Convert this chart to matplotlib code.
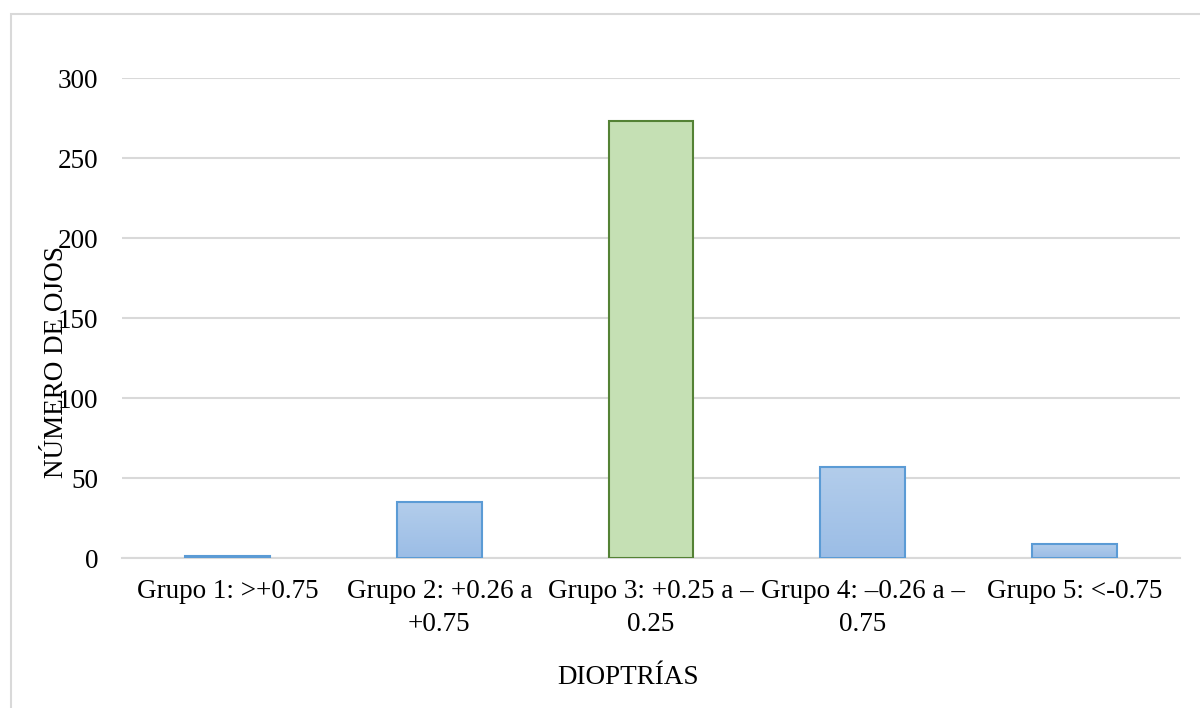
import numpy as np
import matplotlib.pyplot as plt
from matplotlib.patches import Rectangle
from matplotlib.colors import LinearSegmentedColormap

plt.rcParams['font.family'] = ['Liberation Serif', 'DejaVu Serif']

# eyes per dioptre group
grupos = ['Grupo 1: >+0.75', 'Grupo 2: +0.26 a\n+0.75', 'Grupo 3: +0.25 a –\n0.25',
          'Grupo 4: –0.26 a –\n0.75', 'Grupo 5: <-0.75']
n_ojos = [1, 35, 273, 57, 9]
destacado = [False, False, True, False, False]
y_ticks = [0, 50, 100, 150, 200, 250, 300]

grid_col = '#d9d9d9'
blue_edge = '#5b9bd5'
green_face = '#c5e0b4'
green_edge = '#548235'
blue_grad = LinearSegmentedColormap.from_list('blue_grad', ['#9bbde6', '#b3cdeb'])

fig = plt.figure(figsize=(12, 7.08), dpi=100)
ax = fig.add_axes([122 / 1200, 1 - 558 / 708, 1058 / 1200, 480 / 708])

x = np.arange(len(grupos))
width = 0.4
bars = ax.bar(x, n_ojos, width=width, zorder=3)
for bar, hi in zip(bars, destacado):
    if hi:
        bar.set_facecolor(green_face)
        bar.set_edgecolor(green_edge)
        bar.set_linewidth(1.5)
    else:
        bar.set_facecolor('none')
        bar.set_edgecolor(blue_edge)
        bar.set_linewidth(1.5)
        # vertical gradient fill, clipped to the bar
        x0, y0 = bar.get_x(), bar.get_y()
        w, h = bar.get_width(), bar.get_height()
        grad = np.linspace(0, 1, 256).reshape(-1, 1)
        im = ax.imshow(grad, cmap=blue_grad, origin='lower', aspect='auto',
                       extent=[x0, x0 + w, y0, y0 + h], zorder=2)
        im.set_clip_path(bar)

ax.set_xlim(-0.5, len(grupos) - 0.5)
ax.set_ylim(0, 300)
ax.set_yticks(y_ticks)
ax.set_xticks(x)
ax.set_xticklabels(grupos, fontsize=19.5, linespacing=1.45)
ax.tick_params(axis='y', labelsize=19.5, length=0, pad=17)
ax.tick_params(axis='x', length=0, pad=15)
ax.yaxis.grid(True, color=grid_col, linewidth=1.5, zorder=0)
ax.set_axisbelow(True)
for side in ['top', 'right', 'left']:
    ax.spines[side].set_visible(False)
ax.spines['bottom'].set_color(grid_col)
ax.spines['bottom'].set_linewidth(1.5)

fig.text(628 / 1200, 1 - 677 / 708, 'DIOPTRÍAS', fontsize=19.5, ha='center', va='center')
fig.text(57 / 1200, 1 - 362 / 708, 'NÚMERO DE OJOS', fontsize=19.5, rotation=90,
         ha='center', va='center')

# chart frame
fig.patches.append(Rectangle((11 / 1200, -0.05), 1.1, 1 - 14 / 708 + 0.05,
                             transform=fig.transFigure, fill=False,
                             edgecolor=grid_col, linewidth=1.5, zorder=0))

fig.savefig('out.png', dpi=100, facecolor='white')
